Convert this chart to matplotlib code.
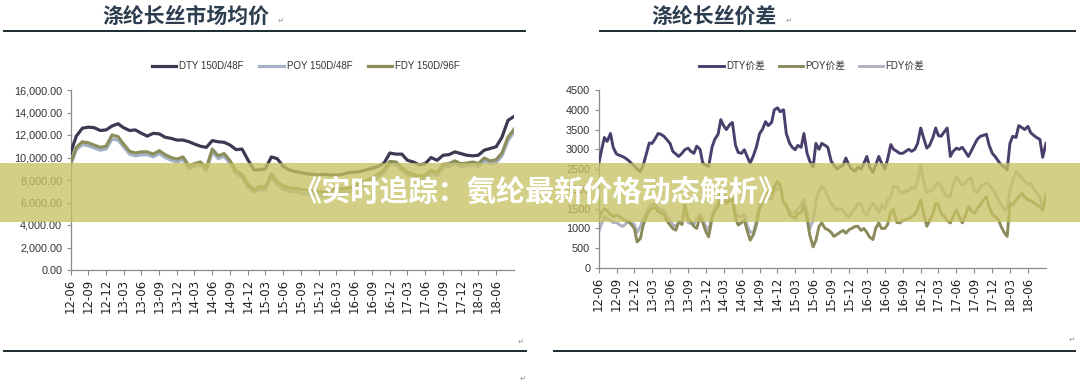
import matplotlib
matplotlib.use('Agg')
import numpy as np
import pandas as pd
import matplotlib.pyplot as plt
from matplotlib.lines import Line2D
from matplotlib.patches import Rectangle
from matplotlib.ticker import FuncFormatter

# left chart: monthly, right chart: half-monthly, both 2012-06 .. 2018-09
months = pd.date_range('2012-06-01', '2018-09-01', freq='MS')
half_months = pd.date_range('2012-06-01', periods=151, freq='SMS')
tick_dates = pd.date_range('2012-06-01', '2018-06-01', freq='3MS')
tick_labels = ['12-06', '12-09', '12-12', '13-03', '13-06', '13-09', '13-12',
               '14-03', '14-06', '14-09', '14-12', '15-03', '15-06', '15-09',
               '15-12', '16-03', '16-06', '16-09', '16-12', '17-03', '17-06',
               '17-09', '17-12', '18-03', '18-06']

# 涤纶长丝市场均价
dty_price = [10400, 11900, 12600, 12700, 12650, 12400, 12450, 12800, 13000, 12650,
             12400, 12450, 12150, 11900, 12150, 12100, 11800, 11700, 11550, 11550,
             11400, 11200, 11000, 10900, 11500, 11400, 11350, 11100, 10700, 10750,
             9800, 8900, 8900, 9000, 10050, 9900, 9200, 8900, 8750, 8650,
             8550, 8500, 8450, 8500, 8450, 8450, 8500, 8650, 8700, 8750,
             8900, 9050, 9200, 9500, 10400, 10300, 10300, 9750, 9600, 9350,
             9450, 10000, 9750, 10200, 10250, 10500, 10350, 10200, 10150, 10200,
             10650, 10800, 10950, 11800, 13300, 13650]
poy_price = [9300, 10700, 11150, 11050, 10850, 10650, 10750, 11650, 11550, 10950,
             10300, 10150, 10250, 10250, 10050, 10350, 10000, 9750, 9600, 9800,
             9000, 9200, 9350, 8800, 10500, 9900, 10100, 9450, 8550, 8250,
             7350, 6900, 7150, 7100, 8250, 7550, 7200, 7000, 6950, 6800,
             6750, 6700, 6600, 6550, 6700, 6900, 6850, 6900, 7100, 7350,
             7650, 7850, 8250, 8650, 9400, 9350, 8850, 8450, 8250, 8100,
             8150, 8600, 8400, 9150, 9200, 9450, 9200, 9250, 9350, 9200,
             9700, 9450, 9550, 10150, 11500, 12250]
fdy_price = [9450, 10900, 11400, 11300, 11100, 10900, 11000, 12000, 11850, 11200,
             10550, 10400, 10500, 10500, 10300, 10600, 10250, 10000, 9850, 10050,
             9250, 9450, 9600, 9050, 10750, 10150, 10350, 9700, 8800, 8500,
             7600, 7150, 7400, 7350, 8550, 7850, 7500, 7300, 7250, 7150,
             7100, 7050, 6950, 6900, 7050, 7250, 7200, 7250, 7450, 7700,
             7950, 8150, 8500, 8900, 9650, 9600, 9100, 8700, 8500, 8350,
             8400, 8850, 8650, 9400, 9450, 9700, 9450, 9500, 9600, 9450,
             9950, 9700, 9800, 10400, 11800, 12500]

# 涤纶长丝价差 (half-monthly)
dty_spread = [2600, 2950, 3300, 3200, 3400, 3050, 2880, 2850, 2820, 2780,
              2720, 2650, 2580, 2500, 2440, 2600, 2900, 3160, 3150, 3250,
              3400, 3380, 3330, 3250, 3150, 2950, 2880, 2820, 2900, 2990,
              3030, 2950, 2900, 3080, 3000, 2650, 2600, 2570, 3050, 3250,
              3380, 3750, 3600, 3500, 3620, 3680, 3100, 2920, 2900, 2990,
              2800, 2650, 2850, 3050, 3400, 3500, 3700, 3600, 3680, 4000,
              4050, 3950, 4000, 3400, 3150, 3050, 2990, 3100, 3050, 3400,
              2900, 2700, 2550, 3150, 3000, 3150, 3100, 3050, 2700, 2600,
              2500, 2550, 2600, 2780, 2600, 2500, 2450, 2550, 2500, 2650,
              2820, 2550, 2420, 2600, 2820, 2650, 2500, 2750, 3120, 3000,
              2950, 2900, 2900, 2950, 3000, 2950, 3000, 3150, 3540, 3300,
              3030, 3100, 3300, 3540, 3350, 3330, 3450, 3540, 2820, 2950,
              3030, 3000, 3050, 2950, 2820, 2950, 3120, 3250, 3330, 3350,
              3380, 3100, 2900, 2820, 2700, 2610, 2550, 2480, 3150, 3330,
              3300, 3600, 3550, 3500, 3580, 3420, 3350, 3300, 3250, 2800,
              3150]
poy_spread = [1250, 1400, 1500, 1450, 1350, 1300, 1340, 1300, 1250, 1200,
              1170, 1100, 1000, 660, 750, 1085, 1300, 1466, 1500, 1550,
              1424, 1400, 1340, 1200, 1085, 1000, 958, 1170, 1100, 1593,
              1250, 1170, 1050, 1000, 1297, 1150, 915, 788, 1254, 1450,
              1550, 1890, 1700, 1636, 1700, 1763, 1254, 1085, 1150, 1212,
              915, 703, 850, 1085, 1500, 1678, 1932, 1850, 1890, 2050,
              2186, 2100, 1650, 1593, 1340, 1300, 1254, 1381, 1400, 1593,
              1250, 830, 534, 700, 1050, 1140, 1000, 970, 900, 800,
              850, 900, 950, 880, 970, 1000, 1050, 1055, 950, 1000,
              900, 780, 720, 1000, 1140, 1000, 1000, 1100, 1420, 1480,
              1150, 1140, 1200, 1230, 1250, 1300, 1350, 1500, 1720, 1400,
              1055, 1200, 1370, 1630, 1600, 1380, 1300, 1200, 1140, 1300,
              1460, 1300, 1140, 1300, 1550, 1450, 1380, 1500, 1600, 1700,
              1800, 1550, 1360, 1300, 1230, 1050, 885, 800, 1630, 1600,
              1720, 1800, 1890, 1800, 1720, 1700, 1650, 1600, 1550, 1450,
              1850]
fdy_spread = [900, 1100, 1300, 1250, 1200, 1150, 1150, 1100, 1050, 1100,
              1200, 1150, 1100, 900, 1050, 1250, 1400, 1550, 1600, 1650,
              1500, 1480, 1450, 1300, 1200, 1100, 1050, 1150, 1200, 1550,
              1150, 1120, 1100, 1250, 1350, 1200, 1050, 950, 1300, 1500,
              1650, 1950, 1900, 1700, 1750, 1800, 1400, 1300, 1300, 1350,
              1050, 900, 900, 1200, 1600, 1700, 1800, 1750, 1750, 1950,
              2000, 2050, 1650, 1550, 1450, 1400, 1400, 1500, 1600, 1750,
              1400, 1000, 1200, 1700, 1950, 2060, 2000, 1800, 1630, 1550,
              1460, 1500, 1450, 1350, 1290, 1400, 1500, 1630, 1600, 1400,
              1330, 1500, 1650, 1550, 1400, 1600, 1500, 1720, 1800, 2060,
              2060, 1950, 1890, 1950, 1950, 2050, 2000, 2200, 2610, 2200,
              1900, 1950, 1980, 2100, 2150, 2050, 1900, 1800, 1800, 2100,
              2310, 2200, 2100, 2150, 2250, 2270, 1950, 1900, 2050, 2100,
              2150, 2100, 2000, 1900, 1720, 1600, 1460, 1500, 1980, 2200,
              2440, 2350, 2270, 2200, 2100, 2150, 2000, 1900, 1800, 1500,
              1750]

W, H = 1080, 384
CJK = ['Noto Sans CJK SC', 'DejaVu Sans']


def px_rect(x0, y0, x1, y1):
    return [x0 / W, 1 - y1 / H, (x1 - x0) / W, (y1 - y0) / H]


def fx(x):
    return x / W


def fy(y):
    return 1 - y / H


def style_axes(ax, ymax, step, fmt):
    for s in ['top', 'right']:
        ax.spines[s].set_visible(False)
    for s in ['left', 'bottom']:
        ax.spines[s].set_color('#8a8a8a')
        ax.spines[s].set_linewidth(0.9)
    ax.set_xlim(months[0], months[-1])
    ax.set_ylim(0, ymax)
    ax.set_yticks(np.arange(0, ymax + 1, step))
    ax.yaxis.set_major_formatter(FuncFormatter(fmt))
    ax.set_xticks(tick_dates)
    ax.set_xticklabels(tick_labels, rotation=90, family='DejaVu Sans',
                       fontsize=8.5, color='#222222')
    ax.tick_params(axis='x', direction='out', length=3.5, width=0.8,
                   color='#8a8a8a', pad=3)
    ax.tick_params(axis='y', direction='out', length=3, width=0.8,
                   color='#8a8a8a', pad=3, labelsize=7.8, labelcolor='#333333')
    for lab in ax.get_yticklabels():
        lab.set_family('Liberation Sans')
    ax.patch.set_alpha(0)


fig = plt.figure(figsize=(W / 100, H / 100), dpi=100)

# left chart: prices
ax1 = fig.add_axes(px_rect(70.5, 90, 514, 270))
l_poy, = ax1.plot(months, poy_price, color='#a3b2c9', lw=2.3, zorder=2)
l_fdy, = ax1.plot(months, fdy_price, color='#8e8e5c', lw=2.3, zorder=3)
l_dty, = ax1.plot(months, dty_price, color='#3b3a52', lw=2.3, zorder=4)
style_axes(ax1, 16000, 2000, lambda v, p: '{:,.2f}'.format(v))

fig.legend([l_dty, l_poy, l_fdy], ['DTY 150D/48F', 'POY 150D/48F', 'FDY 150D/96F'],
           loc='center', bbox_to_anchor=(fx(306), fy(66)), ncol=3, frameon=False,
           prop={'family': 'Liberation Sans', 'size': 7}, handlelength=2.5,
           handletextpad=0.3, columnspacing=1.6, labelcolor='#333333')

# right chart: spreads
ax2 = fig.add_axes(px_rect(598.5, 90, 1046, 268))
r_fdy, = ax2.plot(half_months, fdy_spread, color='#aeb2c2', lw=2.1, zorder=2)
r_poy, = ax2.plot(half_months, poy_spread, color='#8a8a5a', lw=2.1, zorder=3)
r_dty, = ax2.plot(half_months, dty_spread, color='#4a3e6c', lw=2.1, zorder=4)
style_axes(ax2, 4500, 500, lambda v, p: '{:.0f}'.format(v))

fig.legend([r_dty, r_poy, r_fdy], ['DTY价差', 'POY价差', 'FDY价差'],
           loc='center', bbox_to_anchor=(fx(812), fy(66)), ncol=3, frameon=False,
           prop={'family': ['Liberation Sans', 'Noto Sans CJK SC'], 'size': 7},
           handlelength=2.5, handletextpad=0.25, columnspacing=1.4,
           labelcolor='#333333')

# document titles and rules
fig.text(fx(102), fy(16), '涤纶长丝市场均价', family=CJK, fontsize=15,
         weight='bold', color='#2c3d4f', ha='left', va='center')
fig.text(fx(651), fy(16), '涤纶长丝价差', family=CJK, fontsize=15,
         weight='bold', color='#2c3d4f', ha='left', va='center')
for (tx, ty) in [(281, 20), (789, 20), (521, 341), (1072, 339), (523, 378)]:
    fig.text(fx(tx), fy(ty), '\u21b5', family='DejaVu Sans', fontsize=5.5,
             color='#9a9a9a', ha='center', va='center')

for (x0, x1, yy) in [(4, 525, 31), (600, 1075, 31), (4, 526, 351), (554, 1075, 351)]:
    fig.add_artist(Line2D([fx(x0), fx(x1)], [fy(yy), fy(yy)],
                          transform=fig.transFigure, color='#1b2a30', lw=1.4))

# overlay banner
fig.add_artist(Rectangle((0, fy(222)), 1, (222 - 163) / H, transform=fig.transFigure,
                         facecolor='#c8c264', alpha=0.78, edgecolor='none', zorder=10))
fig.text(0.5, fy(192), '《实时追踪：氨纶最新价格动态解析》', family=CJK, fontsize=21,
         weight='bold', color='white', ha='center', va='center', zorder=11)

fig.savefig('out.png', dpi=100)
